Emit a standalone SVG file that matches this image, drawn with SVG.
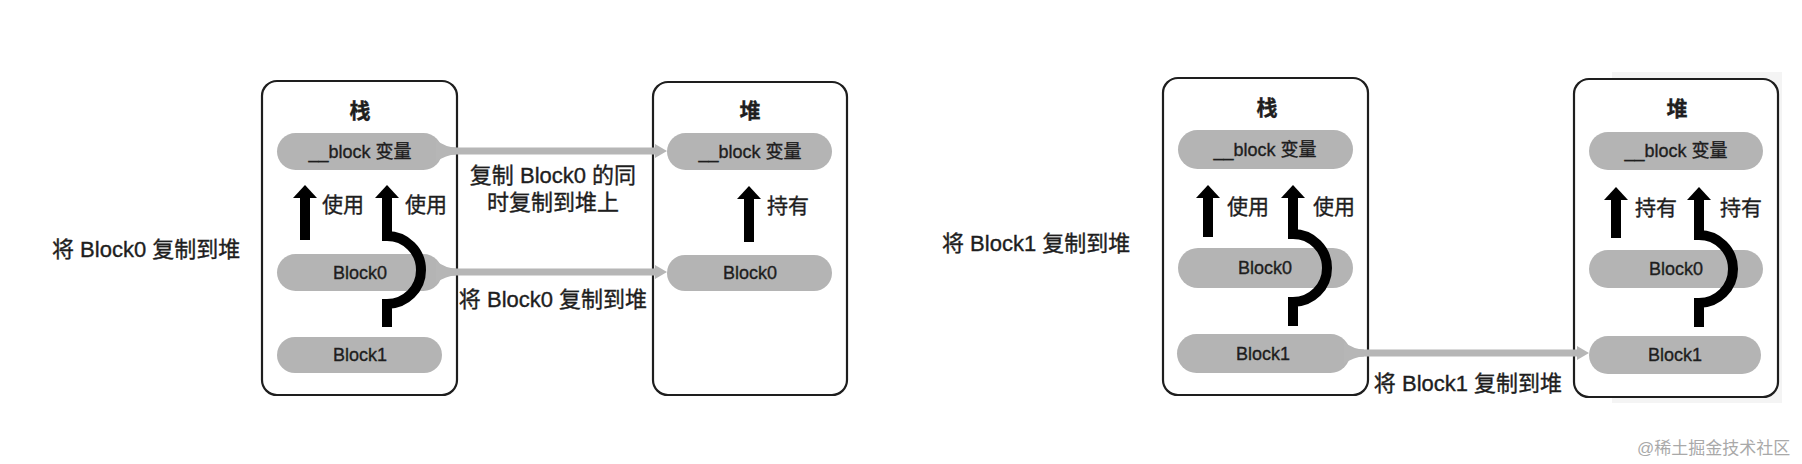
<svg xmlns="http://www.w3.org/2000/svg" width="1802" height="464" viewBox="0 0 1802 464">
<style>
  text { font-family: "Liberation Sans", "Noto Sans CJK SC", sans-serif; fill: #1e1e1e; stroke: #1e1e1e; stroke-width: 0.35; }
  .box { fill: #ffffff; stroke: #1e1e1e; stroke-width: 2.2; }
  .pill { fill: #b4b4b4; }
  .title { font-size: 21px; font-weight: bold; text-anchor: middle; }
  .ptxt { font-size: 18px; text-anchor: middle; dominant-baseline: central; }
  .lbl { font-size: 22px; dominant-baseline: central; }
  .use { font-size: 21px; dominant-baseline: central; }
  .clbl { font-size: 22px; text-anchor: middle; dominant-baseline: central; }
  .arrow { fill: none; stroke: #000; stroke-width: 10; marker-end: url(#head); }
  .conn { fill: none; stroke: #b6b6b6; stroke-width: 7; marker-end: url(#ghead); }
  .flare { fill: #b6b6b6; }
  .wm { font-size: 17px; fill: #a9a9a9; stroke: none; }
</style>
<defs>
  <marker id="head" viewBox="0 0 13 24" refX="0" refY="12" markerWidth="13" markerHeight="24" markerUnits="userSpaceOnUse" orient="auto">
    <path d="M0,0 L13,12 L0,24 Z" fill="#000"/>
  </marker>
  <marker id="ghead" viewBox="0 0 12 14" refX="0" refY="7" markerWidth="12" markerHeight="14" markerUnits="userSpaceOnUse" orient="auto">
    <path d="M0,0 L12,7 L0,14 Z" fill="#b6b6b6"/>
  </marker>
</defs>
<rect width="1802" height="464" fill="#ffffff"/>
<rect x="1612" y="72" width="170" height="331" fill="#f4f4f4"/>

<text class="lbl" x="52" y="249">将 Block0 复制到堆</text>
<text class="lbl" x="942" y="243">将 Block1 复制到堆</text>

<g id="stack1">
  <rect class="box" x="262" y="81" width="195" height="314" rx="15"/>
  <text class="title" x="360" y="118">栈</text>
  <rect class="pill" x="277" y="133" width="165" height="37" rx="18.5"/>
  <text class="ptxt" x="360" y="152">__block 变量</text>
  <rect class="pill" x="277" y="254" width="165" height="37" rx="18.5"/>
  <text class="ptxt" x="360" y="273">Block0</text>
  <rect class="pill" x="277" y="337" width="165" height="36" rx="18"/>
  <text class="ptxt" x="360" y="355">Block1</text>
  <path class="arrow" d="M305,240 L305,198"/>
  <text class="use" x="322" y="204">使用</text>
  <path class="arrow" d="M387,327 L387,304 A34,34 0 0 0 387,236 L387,198"/>
  <text class="use" x="405" y="204">使用</text>
</g>

<g id="heap1">
  <rect class="box" x="653" y="82" width="194" height="313" rx="15"/>
  <text class="title" x="750" y="118">堆</text>
  <rect class="pill" x="667" y="133" width="165" height="37" rx="18.5"/>
  <text class="ptxt" x="750" y="152">__block 变量</text>
  <rect class="pill" x="667" y="255" width="165" height="36" rx="18"/>
  <text class="ptxt" x="750" y="273">Block0</text>
  <path class="arrow" d="M749,242 L749,199"/>
  <text class="use" x="767" y="205">持有</text>
</g>

<g id="stack2">
  <rect class="box" x="1163" y="78" width="205" height="317" rx="15"/>
  <text class="title" x="1267" y="115">栈</text>
  <rect class="pill" x="1178" y="130" width="175" height="39" rx="19.5"/>
  <text class="ptxt" x="1265" y="150">__block 变量</text>
  <rect class="pill" x="1178" y="248" width="175" height="40" rx="20"/>
  <text class="ptxt" x="1265" y="268">Block0</text>
  <rect class="pill" x="1177" y="334" width="173" height="39" rx="19.5"/>
  <text class="ptxt" x="1263" y="354">Block1</text>
  <path class="arrow" d="M1208,237 L1208,198"/>
  <text class="use" x="1227" y="206">使用</text>
  <path class="arrow" d="M1293,326 L1293,302 A34,34 0 0 0 1293,234 L1293,198"/>
  <text class="use" x="1313" y="206">使用</text>
</g>

<g id="heap2">
  <rect class="box" x="1574" y="79" width="204" height="318" rx="15"/>
  <text class="title" x="1677" y="116">堆</text>
  <rect class="pill" x="1589" y="132" width="174" height="38" rx="19"/>
  <text class="ptxt" x="1676" y="151">__block 变量</text>
  <rect class="pill" x="1589" y="250" width="174" height="38" rx="19"/>
  <text class="ptxt" x="1676" y="269">Block0</text>
  <rect class="pill" x="1589" y="336" width="172" height="38" rx="19"/>
  <text class="ptxt" x="1675" y="355">Block1</text>
  <path class="arrow" d="M1616,238 L1616,200"/>
  <text class="use" x="1635" y="207">持有</text>
  <path class="arrow" d="M1699,327 L1699,303 A34,34 0 0 0 1699,235 L1699,200"/>
  <text class="use" x="1720" y="207">持有</text>
</g>

<g id="connectors">
  <path class="flare" d="M436,140 Q446,147.5 456,147.5 L456,154.5 Q446,154.5 436,162 Z"/>
  <path class="conn" d="M442,151 L655,151"/>
  <path class="flare" d="M436,261 Q446,268.5 456,268.5 L456,275.5 Q446,275.5 436,283 Z"/>
  <path class="conn" d="M442,272 L655,272"/>
  <path class="flare" d="M1344,342 Q1354,349.5 1364,349.5 L1364,356.5 Q1354,356.5 1344,364 Z"/>
  <path class="conn" d="M1350,353 L1577,353"/>
  <text class="clbl" x="553" y="175">复制 Block0 的同</text>
  <text class="clbl" x="553" y="202">时复制到堆上</text>
  <text class="clbl" x="553" y="299">将 Block0 复制到堆</text>
  <text class="clbl" x="1468" y="383">将 Block1 复制到堆</text>
</g>

<text class="wm" x="1637" y="454">@稀土掘金技术社区</text>
</svg>
